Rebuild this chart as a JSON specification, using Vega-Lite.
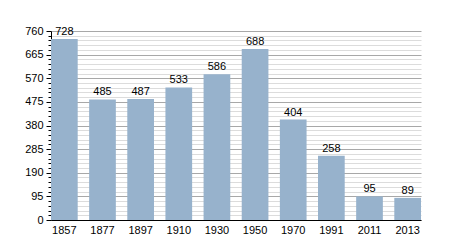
{
  "$schema": "https://vega.github.io/schema/vega-lite/v6.json",
  "autosize": "none",
  "width": 370,
  "height": 189,
  "padding": {"left": 51, "top": 31, "right": 29, "bottom": 30},
  "background": "white",
  "config": {"view": {"stroke": null}, "font": "Liberation Sans"},
  "data": {"values": [
    {"year": "1857", "pop": 728},
    {"year": "1877", "pop": 485},
    {"year": "1897", "pop": 487},
    {"year": "1910", "pop": 533},
    {"year": "1930", "pop": 586},
    {"year": "1950", "pop": 688},
    {"year": "1970", "pop": 404},
    {"year": "1991", "pop": 258},
    {"year": "2011", "pop": 95},
    {"year": "2013", "pop": 89}
  ]},
  "encoding": {
    "x": {"field": "year", "type": "ordinal", "sort": null,
      "scale": {"paddingInner": 0.3, "paddingOuter": 0},
      "axis": {"title": null, "labelAngle": 0, "labelFontSize": 11, "labelColor": "#000", "domainColor": "#000", "domainWidth": 1, "ticks": false, "labelPadding": 4, "grid": false}},
    "y": {"field": "pop", "type": "quantitative",
      "scale": {"domain": [0, 760], "nice": false, "zero": true},
      "axis": {"title": null,
        "values": [0,19,38,57,76,95,114,133,152,171,190,209,228,247,266,285,304,323,342,361,380,399,418,437,456,475,494,513,532,551,570,589,608,627,646,665,684,703,722,741,760],
        "labelExpr": "datum.value % 95 === 0 ? datum.label : ''",
        "labelFontSize": 11, "labelColor": "#000", "labelPadding": 3,
        "domainColor": "#000",
        "tickColor": "#000",
        "tickSize": {"condition": {"test": "datum.value % 95 === 0", "value": 5}, "value": 3},
        "grid": true,
        "gridColor": {"condition": {"test": "datum.value % 95 === 0", "value": "#a8a8a8"}, "value": "#dcdcdc"},
        "gridWidth": 1}}
  },
  "layer": [
    {"mark": {"type": "bar", "color": "#97b2cc"}},
    {"mark": {"type": "text", "baseline": "bottom", "dy": -2, "fontSize": 11, "color": "#000"},
     "encoding": {"text": {"field": "pop", "type": "quantitative"}}}
  ]
}
